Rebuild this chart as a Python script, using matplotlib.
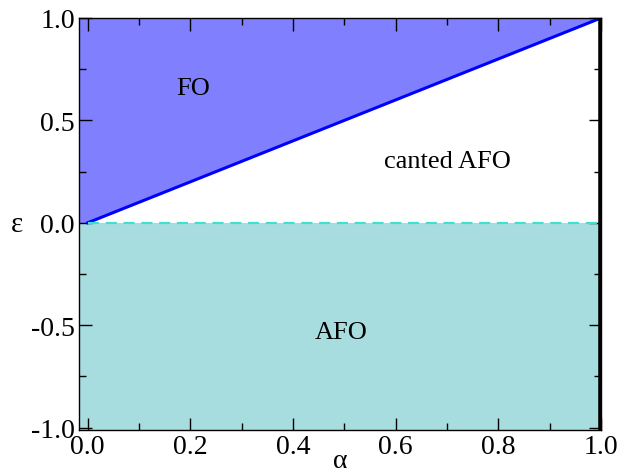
import numpy as np
import matplotlib.pyplot as plt

# phase boundaries
alpha = [0.0, 1.0]
eps_fo = [0.0, 1.0]      # FO / canted AFO boundary, eps = alpha
eps_afo = [0.0, 0.0]     # AFO boundary
x_lim = [-0.017, 1.0]
y_lim = [-1.012, 1.0]
xticks = [0.0, 0.2, 0.4, 0.6, 0.8, 1.0]
yticks = [-1.0, -0.5, 0.0, 0.5, 1.0]
phase_labels = ["FO", "canted AFO", "AFO"]
phase_pos = [(0.205, 0.66), (0.70, 0.30), (0.494, -0.535)]

plt.rcParams['font.family'] = ['Liberation Serif', 'DejaVu Serif']

fig = plt.figure(figsize=(6.35, 4.77), dpi=100)
ax = fig.add_axes([79/635, 1-431/477, (601-79)/635, (431-19)/477])

xs = [x_lim[0]] + alpha
ax.fill_between(xs, [eps_fo[0]] + eps_fo, y_lim[1], color='#8080ff', lw=0)
ax.fill_between(x_lim, y_lim[0], 0.0, color='#a8dde0', lw=0)
ax.plot(alpha, eps_fo, color='#0000ff', lw=2.2)
ax.plot(alpha, eps_afo, color='#40e0d0', lw=1.6, ls=(0, (5, 3)))
ax.plot([1.0, 1.0], [y_lim[0], y_lim[1]], color='black', lw=4, solid_capstyle='butt')

for lab, (px, py) in zip(phase_labels, phase_pos):
    ax.text(px, py, lab, ha='center', va='center', fontsize=19)

ax.set_xlim(x_lim)
ax.set_ylim(y_lim)
ax.set_xticks(xticks)
ax.set_yticks(yticks)
ax.set_xticks(np.arange(0.1, 1.0, 0.2), minor=True)
ax.set_yticks([-0.75, -0.25, 0.25, 0.75], minor=True)
ax.xaxis.set_major_formatter(plt.FormatStrFormatter('%.1f'))
ax.yaxis.set_major_formatter(plt.FormatStrFormatter('%.1f'))
ax.tick_params(which='both', direction='in', top=True, right=True, labelsize=20, width=1)
ax.tick_params(which='major', length=9, pad=3)
ax.tick_params(which='minor', length=5)
for s in ax.spines.values():
    s.set_linewidth(1)

fig.text(340/635, 1-462/477, 'α', fontsize=20, ha='center', va='center')
ax.set_ylabel('ε', fontsize=21, rotation=0, labelpad=10, va='center')

fig.savefig('out.png', dpi=100)
